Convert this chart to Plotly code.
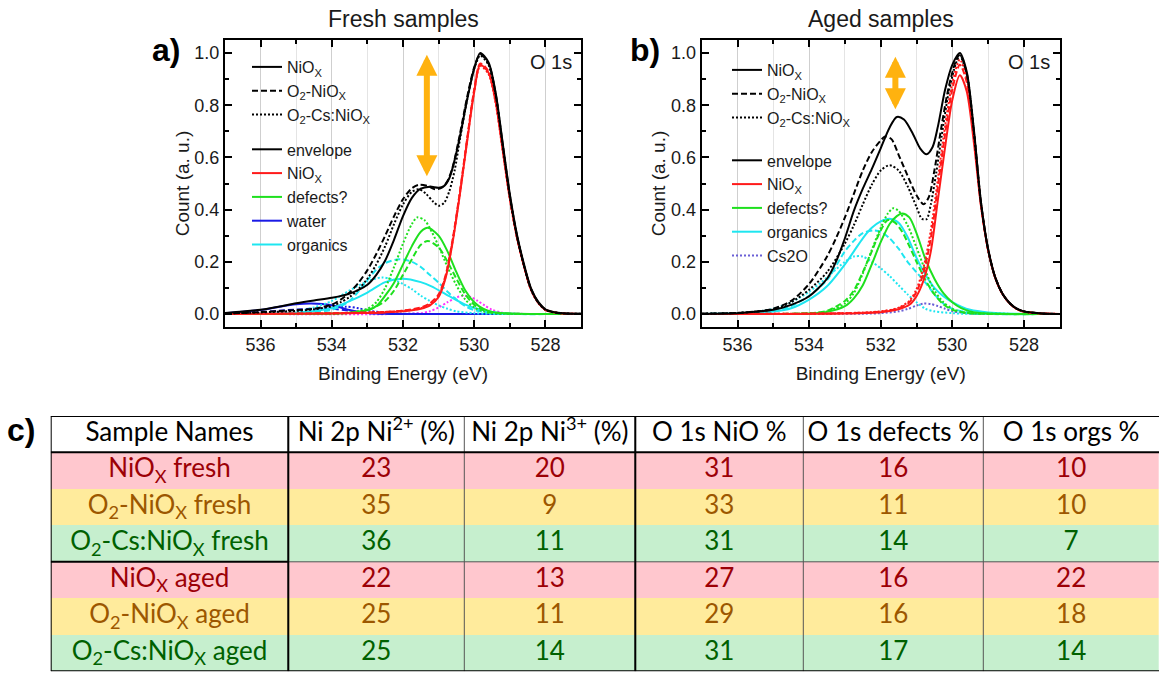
import plotly.graph_objects as go

W, H = 1159, 673

# ---------------- O 1s spectra, fresh films: (binding energy / eV, normalised counts) ----------------
fresh_env_niox = [(537.0, 0.004), (536.5, 0.009), (536.0, 0.016), (535.5, 0.028), (535.0, 0.041), (534.5, 0.052),
                  (534.0, 0.062), (533.5, 0.078), (533.0, 0.112), (532.75, 0.15), (532.5, 0.205), (532.25, 0.285),
                  (532.0, 0.375), (531.75, 0.445), (531.5, 0.48), (531.25, 0.488), (531.0, 0.484), (530.85, 0.49),
                  (530.7, 0.52), (530.55, 0.59), (530.4, 0.68), (530.2, 0.82), (530.0, 0.94), (529.83, 1.0),
                  (529.6, 0.965), (529.4, 0.85), (529.2, 0.655), (529.0, 0.46), (528.8, 0.305), (528.6, 0.19),
                  (528.4, 0.097), (528.2, 0.046), (528.0, 0.018), (527.75, 0.007), (527.5, 0.003), (527.0, 0.001)]
fresh_env_o2 = [(537.0, 0.002), (536.5, 0.004), (536.0, 0.007), (535.5, 0.011), (535.0, 0.015), (534.5, 0.02),
                (534.0, 0.036), (533.75, 0.055), (533.5, 0.082), (533.25, 0.12), (533.0, 0.168), (532.75, 0.23),
                (532.5, 0.3), (532.25, 0.375), (532.0, 0.44), (531.75, 0.482), (531.55, 0.495), (531.3, 0.49),
                (531.1, 0.478), (530.9, 0.485), (530.75, 0.51), (530.6, 0.565), (530.4, 0.69), (530.2, 0.83),
                (530.0, 0.945), (529.83, 0.995), (529.6, 0.96), (529.4, 0.845), (529.2, 0.65), (529.0, 0.455),
                (528.8, 0.3), (528.6, 0.185), (528.4, 0.094), (528.2, 0.044), (528.0, 0.017), (527.75, 0.006),
                (527.5, 0.002), (527.0, 0.001)]
fresh_env_cs = [(537.0, 0.002), (536.0, 0.006), (535.0, 0.012), (534.5, 0.018), (534.0, 0.03), (533.75, 0.045),
                (533.5, 0.065), (533.25, 0.095), (533.0, 0.135), (532.75, 0.19), (532.5, 0.26), (532.25, 0.345),
                (532.0, 0.42), (531.75, 0.468), (531.55, 0.478), (531.35, 0.46), (531.15, 0.43), (531.0, 0.415),
                (530.85, 0.425), (530.7, 0.47), (530.55, 0.55), (530.4, 0.67), (530.2, 0.82), (530.0, 0.94),
                (529.83, 0.99), (529.6, 0.955), (529.4, 0.84), (529.2, 0.645), (529.0, 0.45), (528.8, 0.298),
                (528.6, 0.183), (528.4, 0.093), (528.2, 0.043), (528.0, 0.016), (527.75, 0.006), (527.5, 0.002),
                (527.0, 0.001)]

fresh_nio_niox = [(537.0, 0.0), (534.0, 0.002), (533.0, 0.004), (532.5, 0.006), (532.0, 0.01), (531.5, 0.02),
                  (531.25, 0.032), (531.0, 0.065), (530.8, 0.14), (530.6, 0.28), (530.4, 0.46), (530.2, 0.66),
                  (530.0, 0.85), (529.83, 0.955), (529.6, 0.925), (529.4, 0.815), (529.2, 0.63), (529.0, 0.445),
                  (528.8, 0.295), (528.6, 0.183), (528.4, 0.092), (528.2, 0.043), (528.0, 0.016), (527.75, 0.006),
                  (527.5, 0.002), (527.0, 0.0)]
fresh_nio_o2 = [(537.0, 0.0), (534.0, 0.003), (533.0, 0.006), (532.5, 0.008), (532.0, 0.013), (531.5, 0.025),
                (531.25, 0.04), (531.0, 0.075), (530.8, 0.15), (530.6, 0.29), (530.4, 0.47), (530.2, 0.67),
                (530.0, 0.86), (529.83, 0.96), (529.6, 0.93), (529.4, 0.82), (529.2, 0.635), (529.0, 0.447),
                (528.8, 0.296), (528.6, 0.183), (528.4, 0.092), (528.2, 0.043), (528.0, 0.016), (527.75, 0.006),
                (527.5, 0.002), (527.0, 0.0)]
fresh_nio_cs = [(537.0, 0.0), (534.0, 0.002), (533.0, 0.005), (532.0, 0.012), (531.5, 0.022), (531.25, 0.036),
                (531.0, 0.07), (530.8, 0.145), (530.6, 0.285), (530.4, 0.465), (530.2, 0.665), (530.0, 0.855),
                (529.83, 0.95), (529.6, 0.92), (529.4, 0.81), (529.2, 0.625), (529.0, 0.44), (528.8, 0.292),
                (528.6, 0.18), (528.4, 0.09), (528.2, 0.042), (528.0, 0.016), (527.75, 0.006), (527.5, 0.002),
                (527.0, 0.0)]

fresh_def_niox = [(537.0, 0.0), (534.0, 0.002), (533.5, 0.005), (533.0, 0.015), (532.75, 0.03), (532.5, 0.07),
                  (532.25, 0.12), (532.0, 0.19), (531.75, 0.26), (531.5, 0.315), (531.3, 0.33), (531.0, 0.3),
                  (530.75, 0.24), (530.5, 0.16), (530.25, 0.09), (530.0, 0.045), (529.75, 0.02), (529.5, 0.008),
                  (529.0, 0.002), (527.0, 0.0)]
fresh_def_o2 = [(537.0, 0.0), (534.0, 0.001), (533.5, 0.004), (533.0, 0.013), (532.5, 0.05), (532.25, 0.09),
                (532.0, 0.15), (531.75, 0.21), (531.5, 0.265), (531.3, 0.28), (531.0, 0.255), (530.75, 0.2),
                (530.5, 0.135), (530.25, 0.075), (530.0, 0.035), (529.75, 0.015), (529.5, 0.005), (529.0, 0.001),
                (527.0, 0.0)]
fresh_def_cs = [(537.0, 0.0), (534.0, 0.001), (533.5, 0.005), (533.0, 0.02), (532.75, 0.045), (532.5, 0.1),
                (532.25, 0.18), (532.0, 0.27), (531.75, 0.345), (531.6, 0.37), (531.4, 0.36), (531.25, 0.33),
                (531.0, 0.26), (530.75, 0.18), (530.5, 0.11), (530.25, 0.055), (530.0, 0.025), (529.75, 0.01),
                (529.5, 0.003), (527.0, 0.0)]

fresh_h2o_niox = [(537.0, 0.003), (536.5, 0.008), (536.0, 0.015), (535.5, 0.027), (535.0, 0.037), (534.6, 0.04),
                  (534.25, 0.038), (534.0, 0.033), (533.75, 0.025), (533.5, 0.015), (533.25, 0.008), (533.0, 0.004),
                  (532.5, 0.001), (532.0, 0.0), (527.0, 0.0)]
fresh_h2o_o2 = [(537.0, 0.001), (536.0, 0.006), (535.5, 0.012), (535.0, 0.017), (534.5, 0.02), (534.0, 0.02),
                (533.5, 0.012), (533.0, 0.004), (532.5, 0.001), (532.0, 0.0), (527.0, 0.0)]
fresh_h2o_cs = [(537.0, 0.001), (536.0, 0.004), (535.0, 0.01), (534.5, 0.016), (534.0, 0.024), (533.6, 0.028),
                (533.25, 0.022), (533.0, 0.014), (532.5, 0.004), (532.0, 0.001), (527.0, 0.0)]

fresh_org_niox = [(537.0, 0.0), (535.5, 0.002), (535.0, 0.005), (534.5, 0.011), (534.0, 0.023), (533.5, 0.049),
                  (533.0, 0.082), (532.5, 0.122), (532.0, 0.135), (531.5, 0.122), (531.2, 0.106), (530.7, 0.068),
                  (530.25, 0.036), (529.75, 0.014), (529.3, 0.004), (528.5, 0.0), (527.0, 0.0)]
fresh_org_o2 = [(537.0, 0.0), (535.0, 0.004), (534.5, 0.008), (534.0, 0.016), (533.5, 0.05), (533.0, 0.13),
                (532.75, 0.17), (532.5, 0.195), (532.1, 0.21), (531.75, 0.2), (531.5, 0.18), (531.25, 0.15),
                (531.0, 0.12), (530.75, 0.085), (530.5, 0.055), (530.25, 0.03), (530.0, 0.015), (529.5, 0.004),
                (529.0, 0.0), (527.0, 0.0)]
fresh_org_cs = [(537.0, 0.0), (535.5, 0.004), (535.0, 0.01), (534.5, 0.025), (534.0, 0.05), (533.5, 0.09),
                (533.0, 0.125), (532.6, 0.14), (532.25, 0.13), (532.0, 0.115), (531.75, 0.095), (531.5, 0.07),
                (531.25, 0.05), (531.0, 0.033), (530.75, 0.02), (530.5, 0.01), (530.0, 0.003), (529.5, 0.0),
                (527.0, 0.0)]

fresh_cs2o_cs = [(537.0, 0.0), (532.0, 0.0), (531.5, 0.003), (531.25, 0.01), (531.0, 0.025), (530.75, 0.045),
                 (530.5, 0.063), (530.3, 0.07), (530.1, 0.065), (529.9, 0.05), (529.7, 0.032), (529.5, 0.016),
                 (529.25, 0.006), (529.0, 0.002), (528.5, 0.0), (527.0, 0.0)]

# ---------------- O 1s spectra, aged films ----------------
aged_env_niox = [(537.0, 0.001), (536.0, 0.003), (535.5, 0.008), (535.0, 0.016), (534.5, 0.035), (534.0, 0.068),
                 (533.5, 0.135), (533.25, 0.2), (533.0, 0.29), (532.75, 0.395), (532.5, 0.48), (532.25, 0.555),
                 (532.0, 0.635), (531.75, 0.715), (531.55, 0.755), (531.35, 0.745), (531.1, 0.69), (530.9, 0.635),
                 (530.72, 0.612), (530.55, 0.64), (530.4, 0.72), (530.2, 0.86), (530.0, 0.955), (529.79, 1.0),
                 (529.6, 0.93), (529.4, 0.71), (529.2, 0.43), (529.0, 0.25), (528.8, 0.14), (528.6, 0.078),
                 (528.4, 0.042), (528.2, 0.02), (528.0, 0.01), (527.5, 0.002), (527.0, 0.0)]
aged_env_o2 = [(537.0, 0.001), (536.0, 0.004), (535.5, 0.009), (535.0, 0.02), (534.5, 0.05), (534.0, 0.115),
               (533.5, 0.22), (533.25, 0.29), (533.0, 0.37), (532.75, 0.46), (532.5, 0.55), (532.25, 0.62),
               (532.0, 0.665), (531.88, 0.68), (531.7, 0.67), (531.5, 0.61), (531.25, 0.53), (531.0, 0.455),
               (530.8, 0.42), (530.65, 0.45), (530.5, 0.55), (530.3, 0.72), (530.1, 0.87), (529.9, 0.97),
               (529.79, 0.995), (529.6, 0.925), (529.4, 0.705), (529.2, 0.428), (529.0, 0.248), (528.8, 0.14),
               (528.6, 0.078), (528.4, 0.042), (528.2, 0.02), (528.0, 0.01), (527.5, 0.002), (527.0, 0.0)]
aged_env_cs = [(537.0, 0.001), (536.0, 0.004), (535.5, 0.009), (535.0, 0.018), (534.5, 0.045), (534.0, 0.093),
               (533.5, 0.16), (533.0, 0.27), (532.75, 0.34), (532.5, 0.42), (532.25, 0.495), (532.0, 0.55),
               (531.75, 0.57), (531.5, 0.55), (531.25, 0.49), (531.0, 0.41), (530.85, 0.365), (530.72, 0.363),
               (530.6, 0.42), (530.45, 0.54), (530.3, 0.68), (530.1, 0.85), (529.9, 0.96), (529.79, 0.99),
               (529.6, 0.92), (529.4, 0.7), (529.2, 0.425), (529.0, 0.246), (528.8, 0.139), (528.6, 0.077),
               (528.4, 0.041), (528.2, 0.02), (528.0, 0.01), (527.5, 0.002), (527.0, 0.0)]

aged_nio_niox = [(537.0, 0.0), (533.0, 0.002), (532.0, 0.007), (531.5, 0.018), (531.2, 0.035), (531.0, 0.068),
                 (530.8, 0.13), (530.6, 0.24), (530.4, 0.44), (530.2, 0.64), (530.0, 0.82), (529.79, 0.915),
                 (529.6, 0.855), (529.4, 0.66), (529.2, 0.415), (529.0, 0.245), (528.8, 0.138), (528.6, 0.077),
                 (528.4, 0.041), (528.2, 0.019), (528.0, 0.009), (527.5, 0.002), (527.0, 0.0)]
aged_nio_o2 = [(537.0, 0.0), (533.0, 0.003), (532.0, 0.009), (531.5, 0.022), (531.2, 0.045), (531.0, 0.085),
               (530.8, 0.16), (530.6, 0.29), (530.4, 0.49), (530.2, 0.69), (530.0, 0.86), (529.79, 0.955),
               (529.6, 0.89), (529.4, 0.685), (529.2, 0.42), (529.0, 0.245), (528.8, 0.138), (528.6, 0.077),
               (528.4, 0.041), (528.2, 0.019), (528.0, 0.009), (527.5, 0.002), (527.0, 0.0)]
aged_nio_cs = [(537.0, 0.0), (533.0, 0.003), (532.0, 0.01), (531.5, 0.024), (531.2, 0.05), (531.0, 0.095),
               (530.8, 0.18), (530.6, 0.32), (530.4, 0.52), (530.2, 0.72), (530.0, 0.885), (529.79, 0.975),
               (529.6, 0.905), (529.4, 0.69), (529.2, 0.42), (529.0, 0.245), (528.8, 0.138), (528.6, 0.077),
               (528.4, 0.041), (528.2, 0.019), (528.0, 0.009), (527.5, 0.002), (527.0, 0.0)]

aged_def_niox = [(537.0, 0.0), (534.0, 0.002), (533.5, 0.008), (533.0, 0.03), (532.75, 0.06), (532.5, 0.11),
                 (532.25, 0.19), (532.0, 0.275), (531.75, 0.345), (531.55, 0.375), (531.4, 0.385), (531.2, 0.37),
                 (531.0, 0.31), (530.75, 0.21), (530.5, 0.135), (530.25, 0.08), (530.0, 0.045), (529.75, 0.022),
                 (529.5, 0.01), (529.0, 0.002), (527.0, 0.0)]
aged_def_o2 = [(537.0, 0.0), (534.0, 0.003), (533.5, 0.012), (533.0, 0.05), (532.75, 0.09), (532.5, 0.16),
               (532.25, 0.24), (532.0, 0.32), (531.8, 0.36), (531.6, 0.35), (531.4, 0.315), (531.2, 0.26),
               (531.0, 0.2), (530.75, 0.13), (530.5, 0.075), (530.25, 0.037), (530.0, 0.016), (529.5, 0.003),
               (527.0, 0.0)]
aged_def_cs = [(537.0, 0.0), (534.0, 0.002), (533.5, 0.01), (533.0, 0.04), (532.75, 0.08), (532.5, 0.155),
               (532.25, 0.245), (532.0, 0.33), (531.8, 0.385), (531.65, 0.405), (531.5, 0.395), (531.25, 0.34),
               (531.0, 0.255), (530.75, 0.165), (530.5, 0.09), (530.25, 0.045), (530.0, 0.02), (529.75, 0.008),
               (529.5, 0.003), (527.0, 0.0)]

aged_org_niox = [(537.0, 0.0), (536.0, 0.002), (535.5, 0.004), (535.0, 0.009), (534.5, 0.022), (534.0, 0.055),
                 (533.5, 0.106), (533.0, 0.19), (532.75, 0.24), (532.5, 0.29), (532.25, 0.33), (532.0, 0.355),
                 (531.75, 0.365), (531.5, 0.35), (531.25, 0.295), (531.0, 0.215), (530.75, 0.15), (530.5, 0.1),
                 (530.25, 0.068), (530.0, 0.045), (529.75, 0.028), (529.5, 0.016), (529.0, 0.006), (528.5, 0.002),
                 (527.0, 0.0)]
aged_org_o2 = [(537.0, 0.0), (535.5, 0.004), (535.0, 0.01), (534.5, 0.03), (534.0, 0.07), (533.5, 0.13),
               (533.0, 0.24), (532.75, 0.28), (532.5, 0.31), (532.2, 0.32), (532.0, 0.315), (531.75, 0.29),
               (531.5, 0.25), (531.25, 0.2), (531.0, 0.16), (530.75, 0.12), (530.5, 0.075), (530.25, 0.04),
               (530.0, 0.02), (529.5, 0.005), (529.0, 0.0), (527.0, 0.0)]
aged_org_cs = [(537.0, 0.0), (536.0, 0.003), (535.5, 0.008), (535.0, 0.02), (534.5, 0.045), (534.0, 0.085),
               (533.5, 0.14), (533.0, 0.2), (532.75, 0.22), (532.5, 0.22), (532.25, 0.2), (532.0, 0.175),
               (531.75, 0.145), (531.5, 0.11), (531.25, 0.075), (531.0, 0.045), (530.75, 0.02), (530.5, 0.01),
               (530.0, 0.003), (529.5, 0.0), (527.0, 0.0)]

aged_cs2o_cs = [(537.0, 0.0), (532.5, 0.001), (532.0, 0.003), (531.5, 0.01), (531.25, 0.019), (531.0, 0.032),
                (530.8, 0.04), (530.6, 0.038), (530.4, 0.03), (530.2, 0.02), (530.0, 0.011), (529.75, 0.005),
                (529.5, 0.002), (529.0, 0.0), (527.0, 0.0)]

# ---------------- quantification table ----------------
table_headers = ["Sample Names", "Ni 2p Ni<sup>2+</sup> (%)", "Ni 2p Ni<sup>3+</sup> (%)",
                 "O 1s NiO %", "O 1s defects %", "O 1s orgs %"]
sample_names = ["NiO<sub>X</sub> fresh", "O<sub>2</sub>-NiO<sub>X</sub> fresh", "O<sub>2</sub>-Cs:NiO<sub>X</sub> fresh",
                "NiO<sub>X</sub> aged", "O<sub>2</sub>-NiO<sub>X</sub> aged", "O<sub>2</sub>-Cs:NiO<sub>X</sub> aged"]
ni2p_ni2 = [23, 35, 36, 22, 25, 25]
ni2p_ni3 = [20, 9, 11, 13, 11, 14]
o1s_nio = [31, 33, 31, 27, 29, 31]
o1s_defects = [16, 11, 14, 16, 16, 17]
o1s_orgs = [10, 10, 7, 22, 18, 14]
row_style = [1, 2, 3, 1, 2, 3]          # 1 = red, 2 = neutral, 3 = green cell style

# ---------------- styling ----------------
FONT = "Liberation Sans, Arial, sans-serif"
TFONT = "Lato, Open Sans, sans-serif"
BLACK, RED, GREEN, BLUE, CYAN = "#000000", "#ff1a1a", "#1ee01e", "#1a1ae6", "#1ee6f0"
MAGENTA, PURPLE, ORANGE = "#ff33ff", "#6a5fd6", "#ffb20f"
DASHED, DOTTED = "6px,3px", "2px,2px"
STYLE_FILL = ["#ffffff", "#ffc7ce", "#ffeb9c", "#c6efce"]
STYLE_TEXT = ["#000000", "#9c0006", "#9c5700", "#006100"]

fig = go.Figure()


def curve(pts, ax, color, dash="solid", name=None, legend=None, rank=None, group=None, width=2):
    sfx = "" if ax == 1 else str(ax)
    fig.add_trace(go.Scatter(
        x=[p[0] for p in pts], y=[p[1] for p in pts], mode="lines",
        xaxis="x" + sfx, yaxis="y" + sfx,
        line=dict(color=color, dash=dash, width=width, shape="spline", smoothing=0.8),
        name=name or "", showlegend=name is not None, legend=legend,
        legendrank=rank, legendgroup=group, hoverinfo="skip"))


def key_only(ax, color, dash, name, legend, rank, group):
    sfx = "" if ax == 1 else str(ax)
    fig.add_trace(go.Scatter(x=[None], y=[None], mode="lines", xaxis="x" + sfx, yaxis="y" + sfx,
                             line=dict(color=color, dash=dash, width=2), name=name,
                             legend=legend, legendrank=rank, legendgroup=group, hoverinfo="skip"))


NIOX = "NiO<sub>X</sub>"
O2NIOX = "O<sub>2</sub>-NiO<sub>X</sub>"
O2CS = "O<sub>2</sub>-Cs:NiO<sub>X</sub>"

# panel a: fresh
curve(fresh_cs2o_cs, 1, MAGENTA, DOTTED)
curve(fresh_h2o_o2, 1, BLUE, DASHED)
curve(fresh_h2o_cs, 1, BLUE, DOTTED)
curve(fresh_h2o_niox, 1, BLUE, "solid", "water", "legend", 7, "c")
curve(fresh_org_o2, 1, CYAN, DASHED)
curve(fresh_org_cs, 1, CYAN, DOTTED)
curve(fresh_org_niox, 1, CYAN, "solid", "organics", "legend", 8, "c")
curve(fresh_def_o2, 1, GREEN, DASHED)
curve(fresh_def_cs, 1, GREEN, DOTTED)
curve(fresh_def_niox, 1, GREEN, "solid", "defects?", "legend", 6, "c")
curve(fresh_nio_o2, 1, RED, DASHED)
curve(fresh_nio_cs, 1, RED, DOTTED)
curve(fresh_nio_niox, 1, RED, "solid", NIOX, "legend", 5, "c")
curve(fresh_env_niox, 1, BLACK, "solid", NIOX, "legend", 1, "s")
curve(fresh_env_o2, 1, BLACK, DASHED, O2NIOX, "legend", 2, "s")
curve(fresh_env_cs, 1, BLACK, DOTTED, O2CS, "legend", 3, "s")
key_only(1, BLACK, "solid", "envelope", "legend", 4, "c")

# panel b: aged
curve(aged_cs2o_cs, 2, PURPLE, DOTTED, "Cs2O", "legend2", 8, "c")
curve(aged_org_o2, 2, CYAN, DASHED)
curve(aged_org_cs, 2, CYAN, DOTTED)
curve(aged_org_niox, 2, CYAN, "solid", "organics", "legend2", 7, "c")
curve(aged_def_o2, 2, GREEN, DASHED)
curve(aged_def_cs, 2, GREEN, DOTTED)
curve(aged_def_niox, 2, GREEN, "solid", "defects?", "legend2", 6, "c")
curve(aged_nio_o2, 2, RED, DASHED)
curve(aged_nio_cs, 2, RED, DOTTED)
curve(aged_nio_niox, 2, RED, "solid", NIOX, "legend2", 5, "c")
curve(aged_env_niox, 2, BLACK, "solid", NIOX, "legend2", 1, "s")
curve(aged_env_o2, 2, BLACK, DASHED, O2NIOX, "legend2", 2, "s")
curve(aged_env_cs, 2, BLACK, DOTTED, O2CS, "legend2", 3, "s")
key_only(2, BLACK, "solid", "envelope", "legend2", 4, "c")

# panel c: table drawn on its own hidden axes (x3/y3), one heatmap brick per cell
col_widths = [237.6, 176, 171, 168, 180, 175.7]
header_h, row_h = 36.3, 36.5
tbl_left, tbl_top = 50.7, 416
n_rows = len(sample_names)
columns = [sample_names, ni2p_ni2, ni2p_ni3, o1s_nio, o1s_defects, o1s_orgs]

x_edges = [0.0]
for cw in col_widths:
    x_edges.append(x_edges[-1] + cw)
y_edges = [0.0, header_h] + [header_h + row_h * (i + 1) for i in range(n_rows)]
x_mid = [(a + b) / 2 for a, b in zip(x_edges[:-1], x_edges[1:])]
y_mid = [(a + b) / 2 for a, b in zip(y_edges[:-1], y_edges[1:])]
tbl_w, tbl_h = x_edges[-1], y_edges[-1]

z_style = [[0] * len(columns)] + [[s] * len(columns) for s in row_style]
n = len(STYLE_FILL) - 1
fig.add_trace(go.Heatmap(
    x=x_edges, y=y_edges, z=z_style, zmin=0, zmax=n, showscale=False, hoverinfo="skip",
    colorscale=[[i / n, c] for i, c in enumerate(STYLE_FILL)], xaxis="x3", yaxis="y3"))

cell_x, cell_y, cell_t, cell_c = [], [], [], []
for j, head in enumerate(table_headers):
    cell_x.append(x_mid[j]); cell_y.append(y_mid[0]); cell_t.append(head); cell_c.append(STYLE_TEXT[0])
for i in range(n_rows):
    for j, col in enumerate(columns):
        cell_x.append(x_mid[j]); cell_y.append(y_mid[i + 1]); cell_t.append(str(col[i]))
        cell_c.append(STYLE_TEXT[row_style[i]])
fig.add_trace(go.Scatter(x=cell_x, y=cell_y, text=cell_t, mode="text", textposition="middle center",
                         textfont=dict(family=TFONT, size=26, color=cell_c), xaxis="x3", yaxis="y3",
                         hoverinfo="skip", showlegend=False))

shapes = []


def rule(x0, y0, x1, y1, w=1, c="#555555"):
    shapes.append(dict(type="line", xref="x3", yref="y3", x0=x0, x1=x1, y0=y0, y1=y1,
                       line=dict(color=c, width=w), layer="above"))


# thin column separators and the fresh/aged divider
for xe in x_edges[1:-1]:
    rule(xe, 0, xe, tbl_h)
mid_y = y_edges[1 + n_rows // 2]
rule(x_edges[1], mid_y, tbl_w, mid_y)
# heavy frame, header rule and the sample-name column
for xe in (x_edges[0], x_edges[1], x_edges[3]):
    rule(xe, 0, xe, tbl_h, 2, "black")
for ye in (0, header_h, tbl_h):
    rule(0, ye, tbl_w, ye, 2, "black")
rule(0, mid_y, x_edges[1], mid_y, 2, "black")

axis_common = dict(
    showline=True, linecolor="black", linewidth=2, mirror="ticks",
    ticks="inside", ticklen=7, tickwidth=1.5, tickcolor="black",
    tickfont=dict(family=FONT, size=18, color="#1a1a1a"), zeroline=False,
)
xaxis_cfg = dict(axis_common, range=[537, 527], tick0=528, dtick=2, showgrid=True, gridcolor="#cfcfcf",
                 gridwidth=1,
                 minor=dict(dtick=1, ticks="inside", ticklen=4, tickcolor="black", showgrid=True,
                            gridcolor="#e4e4e4"),
                 title=dict(text="Binding Energy (eV)", font=dict(family=FONT, size=19, color="#1a1a1a"),
                            standoff=13))
yaxis_cfg = dict(axis_common, range=[-0.05, 1.05], tick0=0, dtick=0.2, tickformat=".1f", showgrid=False,
                 minor=dict(dtick=0.1, ticks="inside", ticklen=4, tickcolor="black"),
                 title=dict(text="Count (a. u.)", font=dict(family=FONT, size=19, color="#1a1a1a"),
                            standoff=0))
hidden = dict(visible=False, fixedrange=True, showgrid=False, zeroline=False)

ytop, ybot = 1 - 40 / H, 1 - 327 / H
legend_common = dict(xanchor="left", yanchor="top", bgcolor="rgba(0,0,0,0)",
                     font=dict(family=FONT, size=16, color="#1a1a1a"), traceorder="grouped",
                     itemclick=False)

fig.update_layout(
    width=W, height=H, margin=dict(l=0, r=0, t=0, b=0),
    paper_bgcolor="white", plot_bgcolor="white", showlegend=True,
    xaxis=dict(xaxis_cfg, domain=[225 / W, 581 / W], anchor="y"),
    yaxis=dict(yaxis_cfg, domain=[ybot, ytop], anchor="x"),
    xaxis2=dict(xaxis_cfg, domain=[701.7 / W, 1059.7 / W], anchor="y2"),
    yaxis2=dict(yaxis_cfg, domain=[ybot, ytop], anchor="x2"),
    xaxis3=dict(hidden, domain=[tbl_left / W, (tbl_left + tbl_w) / W], range=[0, tbl_w], anchor="y3"),
    yaxis3=dict(hidden, domain=[1 - (tbl_top + tbl_h) / H, 1 - tbl_top / H], range=[tbl_h, 0], anchor="x3"),
    legend=dict(legend_common, x=247 / W, y=1 - 50 / H, tracegroupgap=11),
    legend2=dict(legend_common, x=727 / W, y=1 - 53 / H, tracegroupgap=19),
    shapes=shapes,
)

# titles, panel letters, core-level labels, arrows
for ax, title, letter, lx in [("x", "Fresh samples", "a)", 166), ("x2", "Aged samples", "b)", 645)]:
    fig.add_annotation(text=title, xref=ax + " domain", yref="paper", x=0.5, y=1 - 19 / H,
                       showarrow=False, font=dict(family=FONT, size=23, color="#1a1a1a"),
                       xanchor="center", yanchor="middle")
    fig.add_annotation(text="<b>%s</b>" % letter, xref="paper", yref="paper", x=lx / W, y=1 - 50 / H,
                       showarrow=False, font=dict(family=FONT, size=32, color="black"),
                       xanchor="center", yanchor="middle")
    fig.add_annotation(text="O 1s", xref=ax, yref=ax.replace("x", "y"), x=527.85, y=0.967,
                       showarrow=False, font=dict(family=FONT, size=20, color="#1a1a1a"),
                       xanchor="center", yanchor="middle")
fig.add_annotation(text="<b>c)</b>", xref="paper", yref="paper", x=21 / W, y=1 - 430 / H,
                   showarrow=False, font=dict(family=FONT, size=32, color="black"),
                   xanchor="center", yanchor="middle")

arrows = [("x", "y", 531.33, 0.993, 0.522), ("x2", "y2", 531.59, 0.986, 0.779)]
for xa, ya, ev, top, bot in arrows:
    fig.add_annotation(x=ev, y=top, ax=ev, ay=bot, xref=xa, yref=ya, axref=xa, ayref=ya,
                       showarrow=True, arrowside="end+start", arrowhead=2, arrowsize=0.7,
                       arrowwidth=6, arrowcolor=ORANGE, text="")

fig.write_html("out.html")
